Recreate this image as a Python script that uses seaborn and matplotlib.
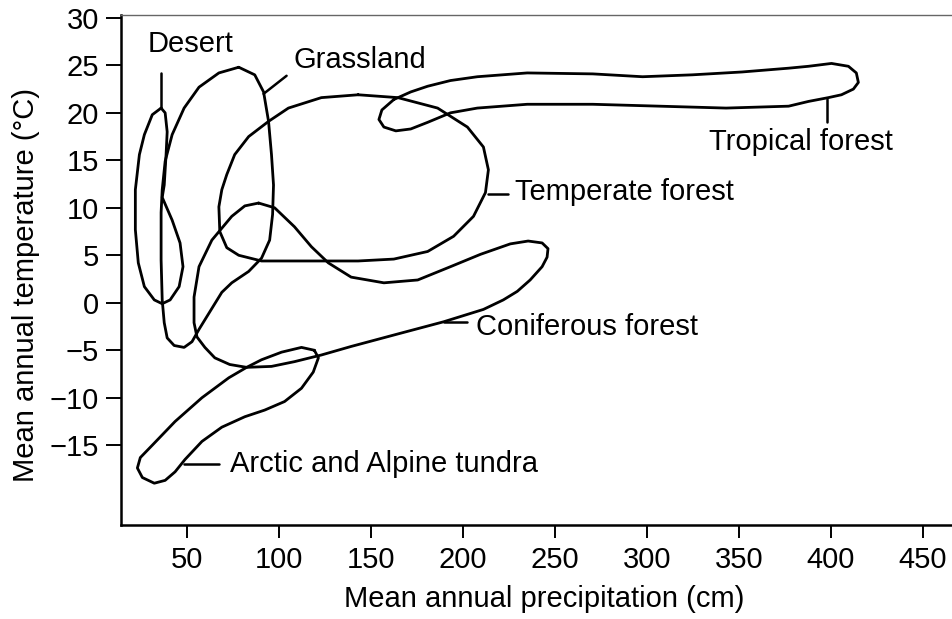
import matplotlib
matplotlib.use("Agg")
import matplotlib.pyplot as plt
import numpy as np
import pandas as pd
import seaborn as sns

# ---- data: x = mean annual precipitation (cm), y = mean annual temperature (°C)
desert_x = [35.9, 38.1, 39.2, 38.6, 37.6, 36.5, 41.9, 46.2, 47.8, 45.7, 40.8, 36.5, 32.2, 26.8,
            23.5, 21.9, 21.9, 24.1, 26.8, 31.1, 35.9]
desert_y = [20.5, 20.0, 18.0, 15.6, 12.4, 11.1, 8.7, 6.3, 3.8, 1.7, 0.3, -0.1, 0.3, 1.7,
            4.2, 7.7, 11.9, 15.6, 17.7, 19.8, 20.5]

grass_x = [78.1, 86.8, 91.6, 94.3, 95.9, 97.0, 96.5, 94.9, 90.5, 83.5, 74.3, 68.9, 61.9, 56.5, 52.7,
           48.4, 43.0, 39.2, 37.6, 36.5, 35.9, 35.9, 36.5, 38.1, 41.9, 48.4, 56.5, 67.3, 78.1]
grass_y = [24.8, 24.0, 22.2, 19.1, 15.6, 12.4, 9.3, 6.6, 4.7, 3.3, 2.1, 1.1, -1.1, -2.8, -4.1,
           -4.7, -4.5, -3.7, -2.1, 0.3, 4.5, 9.5, 11.9, 14.9, 17.7, 20.5, 22.7, 24.2, 24.8]

temperate_x = [143.0, 164.6, 186.2, 202.4, 211.1, 213.8, 212.2, 205.7, 194.9, 180.8, 162.4, 143.0, 119.2,
               90.5, 78.1, 71.6, 67.8, 67.3, 68.9, 71.6, 75.9, 83.5, 94.3, 105.1, 123.0, 143.0]
temperate_y = [21.9, 21.6, 20.5, 18.5, 16.4, 14.0, 11.6, 9.1, 7.0, 5.4, 4.6, 4.4, 4.4,
               4.4, 5.0, 5.8, 7.5, 10.1, 11.9, 13.5, 15.6, 17.5, 19.1, 20.5, 21.6, 21.9]

tropical_x = [162.4, 171.6, 180.8, 193.2, 207.8, 234.9, 270.5, 297.6, 324.6, 351.6, 377.0, 387.8, 400.3,
              409.5, 413.8, 414.9, 412.2, 405.7, 398.6, 387.8, 377.0, 343.0, 306.8, 270.5, 234.9, 207.8,
              193.2, 180.8, 171.6, 163.5, 157.0, 154.3, 155.9, 162.4]
tropical_y = [21.4, 22.2, 22.8, 23.4, 23.8, 24.2, 24.1, 23.8, 24.0, 24.3, 24.7, 24.9, 25.2,
              24.9, 24.2, 23.2, 22.5, 21.9, 21.6, 21.2, 20.7, 20.5, 20.7, 20.9, 20.9, 20.5,
              20.0, 19.0, 18.3, 18.1, 18.5, 19.3, 20.3, 21.4]

conifer_x = [88.9, 97.6, 108.4, 117.6, 126.8, 139.2, 157.0, 175.4, 193.2, 209.5, 225.7, 235.4, 243.0,
             246.2, 245.7, 243.0, 236.5, 229.5, 221.9, 211.1, 189.5, 166.2, 139.2, 123.0, 108.4, 95.9,
             82.4, 73.2, 65.1, 59.7, 55.4, 53.8, 53.8, 56.5, 63.5, 74.3, 81.4, 88.9]
conifer_y = [10.5, 10.0, 8.0, 5.9, 4.2, 2.7, 2.1, 2.4, 3.8, 5.1, 6.2, 6.5, 6.3,
             5.7, 4.8, 3.8, 2.4, 1.2, 0.3, -0.7, -2.0, -3.2, -4.6, -5.5, -6.2, -6.7,
             -6.8, -6.5, -5.8, -4.7, -3.6, -2.1, 0.6, 3.8, 6.6, 9.1, 10.2, 10.5]

tundra_x = [119.2, 121.4, 118.6, 112.2, 103.0, 92.2, 81.4, 68.9, 58.1, 48.9, 43.5, 38.1, 32.2, 25.7,
            23.0, 24.6, 31.1, 43.5, 58.1, 72.7, 82.4, 90.5, 101.4, 112.2, 119.2]
tundra_y = [-5.0, -5.8, -7.3, -9.0, -10.4, -11.3, -12.0, -13.1, -14.6, -16.5, -17.8, -18.7, -19.0, -18.4,
            -17.4, -16.3, -15.0, -12.5, -10.0, -7.9, -6.8, -6.0, -5.2, -4.7, -5.0]

# label text and anchor (left edge, vertical centre) plus leader line end points
labels = ["Desert", "Grassland", "Tropical forest", "Temperate forest", "Coniferous forest", "Arctic and Alpine tundra"]
label_x = [28.4, 107.8, 333.8, 228.4, 207.3, 73.2]
label_y = [27.2, 25.6, 16.9, 11.7, -2.6, -17.0]
leader_x0 = [35.9, 104.1, 397.6, 213.8, 189.5, 48.4]
leader_y0 = [24.2, 23.9, 21.5, 11.5, -2.0, -17.0]
leader_x1 = [35.9, 91.6, 397.6, 224.6, 202.4, 67.3]
leader_y1 = [20.5, 22.0, 19.0, 11.5, -2.0, -17.0]

x_ticks = [50, 100, 150, 200, 250, 300, 350, 400, 450]
y_ticks = [30, 25, 20, 15, 10, 5, 0, -5, -10, -15]
y_ticklabels = ["30", "25", "20", "15", "10", "5", "0", "\u22125", "\u221210", "\u221215"]

# ---- build tables
biomes = [("Desert", desert_x, desert_y), ("Grassland", grass_x, grass_y),
          ("Temperate forest", temperate_x, temperate_y), ("Tropical forest", tropical_x, tropical_y),
          ("Coniferous forest", conifer_x, conifer_y), ("Tundra", tundra_x, tundra_y)]
rows = []
for name, xs, ys in biomes:
    for i, (x, y) in enumerate(zip(xs, ys)):
        rows.append({"biome": name, "order": i, "precip": x, "temp": y})
df = pd.DataFrame(rows)

lrows = []
for i in range(len(labels)):
    lrows.append({"leader": labels[i], "precip": leader_x0[i], "temp": leader_y0[i]})
    lrows.append({"leader": labels[i], "precip": leader_x1[i], "temp": leader_y1[i]})
ldf = pd.DataFrame(lrows)

# ---- style
sns.set_theme(style="ticks")
plt.rcParams['font.family'] = ['Liberation Sans', 'DejaVu Sans']
plt.rcParams['text.color'] = 'black'
plt.rcParams['axes.labelcolor'] = 'black'
plt.rcParams['xtick.color'] = 'black'
plt.rcParams['ytick.color'] = 'black'

fig = plt.figure(figsize=(9.52, 6.19), dpi=100)
ax = fig.add_axes([121 / 952, 1 - 525 / 619, 1 - 121 / 952, (525 - 15) / 619])

sns.lineplot(data=df, x="precip", y="temp", units="biome", estimator=None, sort=False,
             color="black", lw=2.0, ax=ax, legend=False)
sns.lineplot(data=ldf, x="precip", y="temp", units="leader", estimator=None, sort=False,
             color="black", lw=1.8, ax=ax, legend=False)
for line in ax.lines:
    line.set_solid_joinstyle("round")
    line.set_solid_capstyle("round")

for t, x, y in zip(labels, label_x, label_y):
    ax.text(x, y, t, fontsize=21, ha="left", va="center", color="black")

ax.set_xlim(14.1, 465.8)
ax.set_ylim(-23.4, 30.3)
ax.set_xticks(x_ticks)
ax.set_yticks(y_ticks)
ax.set_yticklabels(y_ticklabels)
ax.tick_params(axis="y", length=11, width=1.4, pad=5, labelsize=21, direction="out")
ax.tick_params(axis="x", length=9, width=1.4, pad=6, labelsize=21, direction="out")

ax.spines["right"].set_visible(False)
ax.spines["top"].set_linewidth(1.0)
ax.spines["top"].set_color("#666666")
ax.spines["left"].set_linewidth(1.8)
ax.spines["bottom"].set_linewidth(1.8)
ax.spines["left"].set_color("black")
ax.spines["bottom"].set_color("black")

ax.set_xlabel("Mean annual precipitation (cm)", fontsize=21)
ax.set_ylabel("Mean annual temperature (\u00b0C)", fontsize=21)
ax.xaxis.set_label_coords(0.509, -0.118)
ax.yaxis.set_label_coords(-0.097, 0.47)

fig.savefig("out.png", dpi=100)
